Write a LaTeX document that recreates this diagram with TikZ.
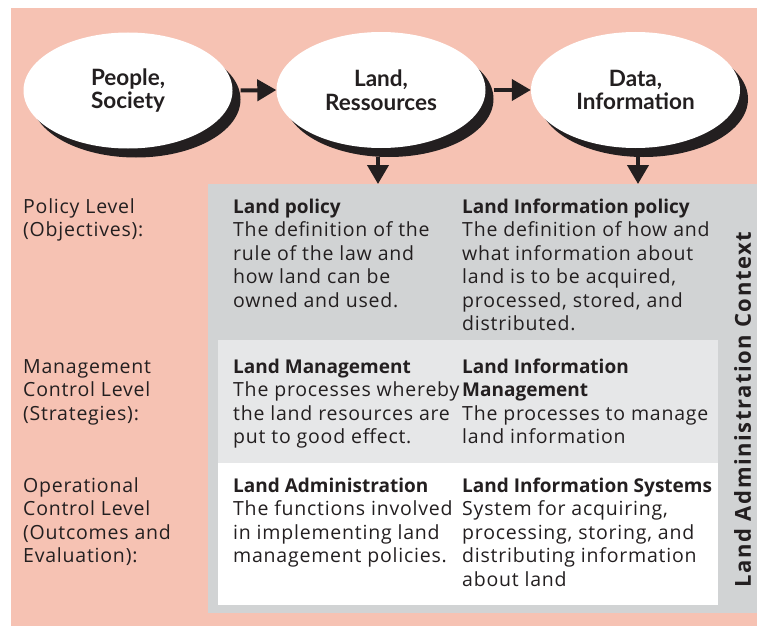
\documentclass[tikz,border=0pt]{standalone}
\usepackage{fontspec}
\setmainfont{Open Sans}
\newfontfamily\bodyf[LetterSpace=4]{Open Sans}
\newfontfamily\headf{Open Sans}
\newfontfamily\ellf{Lato}
\newfontfamily\ctxf[LetterSpace=7]{Open Sans}
\usetikzlibrary{shapes.geometric,shadows,arrows.meta}
\definecolor{pinkbg}{HTML}{F6C2B3}
\definecolor{ctxgrey}{HTML}{D1D3D4}
\definecolor{mgmtgrey}{HTML}{E6E7E8}
\definecolor{ink}{HTML}{231F20}
\newcommand\blk[2]{\parbox[t]{262pt}{\raggedright\fontsize{19.5}{23.5}\selectfont{\headf\bfseries\fontsize{19}{23.5}\selectfont #1}\\\bodyf #2}}
\newcommand\lbl[1]{\parbox[t]{190pt}{\raggedright\bodyf\fontsize{19.5}{23.5}\selectfont #1}}
\tikzset{
  ovalnode/.style={ellipse, fill=white, inner sep=0pt, minimum width=209pt, minimum height=116pt,
    align=center, text=ink, font=\ellf\bfseries\fontsize{22.5}{23.5}\selectfont,
    drop shadow={shadow xshift=8pt, shadow yshift=-9pt, opacity=1, fill=ink}},
  arr/.style={draw=ink, line width=4pt, -{Triangle[length=19pt,width=21pt]}},
  panel/.style={anchor=north west, inner sep=0pt, outer sep=0pt},
  txt/.style={anchor=base west, inner sep=0pt, text=ink}
}
\begin{document}
\begin{tikzpicture}[x=1pt,y=-1pt]
\useasboundingbox (0,0) rectangle (757,626);
\fill[white] (0,0) rectangle (757,626);
\node[panel, fill=pinkbg, minimum width=746pt, minimum height=618pt] (bg) at (11,8) {};
\node[panel, fill=ctxgrey, minimum width=549pt, minimum height=429pt] (ctx) at (208,184) {};
\node[panel, fill=mgmtgrey, minimum width=500pt, minimum height=123pt] (mgmt) at (218,340) {};
\node[panel, fill=white, minimum width=500pt, minimum height=142pt] (oper) at (218,463) {};

\node[ovalnode] (e1) at (128,90.5) {People,\\Society};
\node[ovalnode] (e2) at (381,90) {Land,\\Ressources};
\node[ovalnode] (e3) at (635.5,90) {Data,\\Information};

\draw[arr] ([xshift=8pt]e1.east) -- (e2.west);
\draw[arr] ([xshift=8pt]e2.east) -- (e3.west);
\coordinate (a2) at ([shift={(-3,9)}]e2.south);
\coordinate (a3) at ([shift={(2.5,9)}]e3.south);
\draw[arr] (a2) -- (a2 |- ctx.north);
\draw[arr] (a3) -- (a3 |- ctx.north);

\node[txt] (l1) at (23,213) {\lbl{Policy Level\\(Objectives):}};
\node[txt] (l2) at (23,373) {\lbl{Management\\Control Level\\(Strategies):}};
\node[txt] (l3) at (23,492) {\lbl{Operational\\Control Level\\(Outcomes and\\Evaluation):}};

\node[txt] (p1) at (233,213) {\blk{Land policy}{The definition of the\\rule of the law and\\how land can be\\owned and used.}};
\node[txt] (p2) at (462,213) {\blk{Land Information policy}{The definition of how and\\what information about\\land is to be acquired,\\processed, stored, and\\distributed.}};
\node[txt] (m1) at (233,373) {\blk{Land Management}{The processes whereby\\the land resources are\\put to good effect.}};
\node[txt] (m2) at (462,373) {\blk{Land Information\\Management}{The processes to manage\\land information}};
\node[txt] (o1) at (233,492) {\blk{Land Administration}{The functions involved\\in implementing land\\management policies.}};
\node[txt] (o2) at (462,492) {\blk{Land Information Systems}{System for acquiring,\\processing, storing, and\\distributing information\\about land}};

\node[rotate=90, inner sep=0pt, text=ink] (ctxlabel) at (742.5,409.5) {\ctxf\bfseries\fontsize{22}{24}\selectfont Land Administration Context};
\end{tikzpicture}
\end{document}
